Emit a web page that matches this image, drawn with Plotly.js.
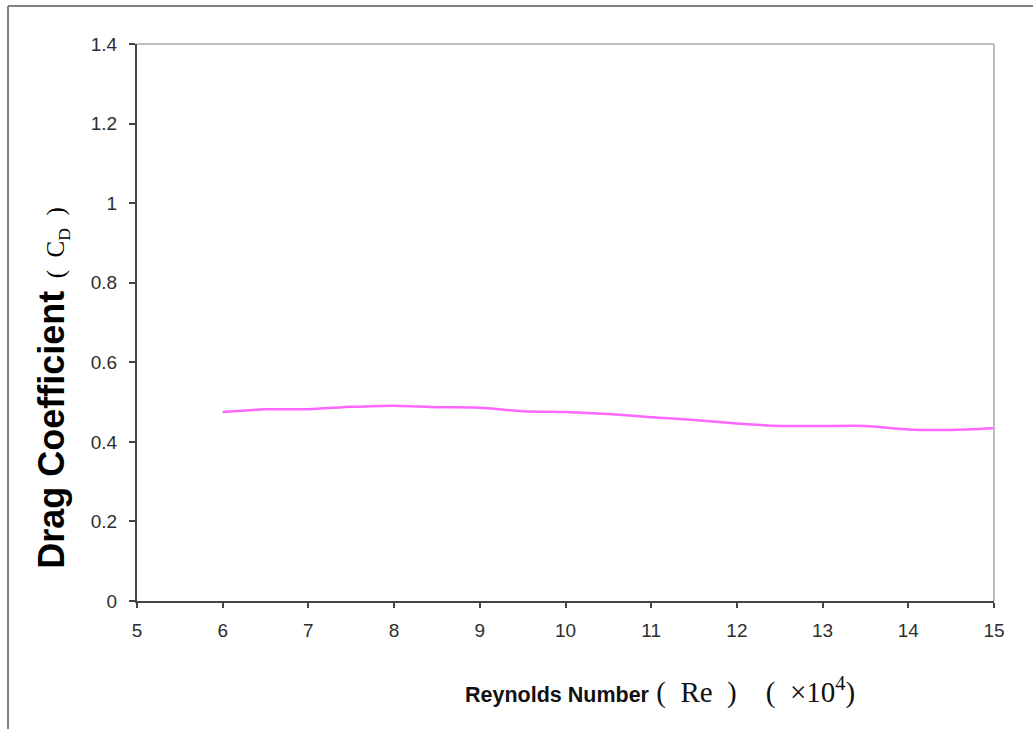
<!DOCTYPE html>
<html>
<head>
<meta charset="utf-8">
<script src="https://cdn.plot.ly/plotly-3.0.1.min.js"></script>
<style>html,body{margin:0;padding:0;background:#fff;}#chart{width:1033px;height:729px;}</style>
</head>
<body>
<div id="chart"></div>
<script>
// Reynolds number (x 10^4)
var reynolds = [6.0, 6.5, 7.0, 7.5, 8.0, 8.5, 9.0, 9.5, 10.0, 10.5, 11.0, 11.5, 12.0, 12.5, 13.0, 13.5, 14.0, 14.5, 15.0];
// Drag coefficient C_D
var dragCoeff = [0.475, 0.482, 0.482, 0.488, 0.491, 0.487, 0.486, 0.477, 0.475, 0.470, 0.462, 0.455, 0.446, 0.440, 0.440, 0.440, 0.431, 0.430, 0.434];
var xTicks = [5, 6, 7, 8, 9, 10, 11, 12, 13, 14, 15];
var yTicks = [0, 0.2, 0.4, 0.6, 0.8, 1, 1.2, 1.4];

var trace = {
  x: reynolds,
  y: dragCoeff,
  type: 'scatter',
  mode: 'lines',
  line: {color: '#ff66ff', width: 2.5, shape: 'spline', smoothing: 0.6},
  hoverinfo: 'x+y'
};

var tickFont = {family: 'Liberation Sans, Arial, sans-serif', size: 19, color: '#2e2e2e'};

var layout = {
  width: 1033,
  height: 729,
  margin: {l: 137, r: 39, t: 44, b: 128},
  paper_bgcolor: '#ffffff',
  plot_bgcolor: '#ffffff',
  showlegend: false,
  xaxis: {
    range: [5, 15],
    tickvals: xTicks,
    ticktext: xTicks.map(String),
    showgrid: false,
    zeroline: false,
    showline: true,
    linecolor: '#444444',
    linewidth: 2,
    ticks: 'outside',
    ticklen: 5,
    tickwidth: 2,
    tickcolor: '#444444',
    tickfont: tickFont,
    ticklabelstandoff: 6
  },
  yaxis: {
    range: [0, 1.4],
    tickvals: yTicks,
    ticktext: yTicks.map(String),
    showgrid: false,
    zeroline: false,
    showline: true,
    linecolor: '#444444',
    linewidth: 2,
    ticks: 'outside',
    ticklen: 6,
    tickwidth: 2,
    tickcolor: '#444444',
    tickfont: tickFont,
    ticklabelstandoff: 8
  },
  shapes: [
    // plot-area frame (top and right)
    {type: 'line', xref: 'paper', yref: 'paper', x0: 0, x1: 1, y0: 1, y1: 1, line: {color: '#bdbdbd', width: 2}},
    {type: 'line', xref: 'paper', yref: 'paper', x0: 1, x1: 1, y0: 0, y1: 1, line: {color: '#bdbdbd', width: 2}},
    // outer chart frame (top and left)
    {type: 'line', xref: 'paper', yref: 'paper', x0: -0.1505, x1: 1.2, y0: 1.0682, y1: 1.0682, line: {color: '#808080', width: 2}},
    {type: 'line', xref: 'paper', yref: 'paper', x0: -0.1505, x1: -0.1505, y0: -0.3, y1: 1.0682, line: {color: '#808080', width: 2}}
  ],
  annotations: [
    {
      xref: 'paper', yref: 'paper', x: -0.0985, y: 0.382,
      xanchor: 'center', yanchor: 'middle', textangle: -90, showarrow: false,
      text: '<b>Drag Coefficient</b><span style="font-family:Liberation Serif, Times New Roman, serif;font-size:25px;font-weight:normal">  (  C<sub>D</sub>  )</span>',
      font: {family: 'Liberation Sans, Arial, sans-serif', size: 36, color: '#000000'}
    },
    {
      xref: 'paper', yref: 'paper', x: 0.610, y: -0.160,
      xanchor: 'center', yanchor: 'middle', showarrow: false,
      text: '<b>Reynolds Number</b><span style="font-family:Liberation Serif, Times New Roman, serif;font-size:29px"> (  Re  )    (  ×10<sup>4</sup>)</span>',
      font: {family: 'Liberation Sans, Arial, sans-serif', size: 21.5, color: '#111111'}
    }
  ]
};

Plotly.newPlot('chart', [trace], layout, {displayModeBar: false, staticPlot: false});
</script>
</body>
</html>
